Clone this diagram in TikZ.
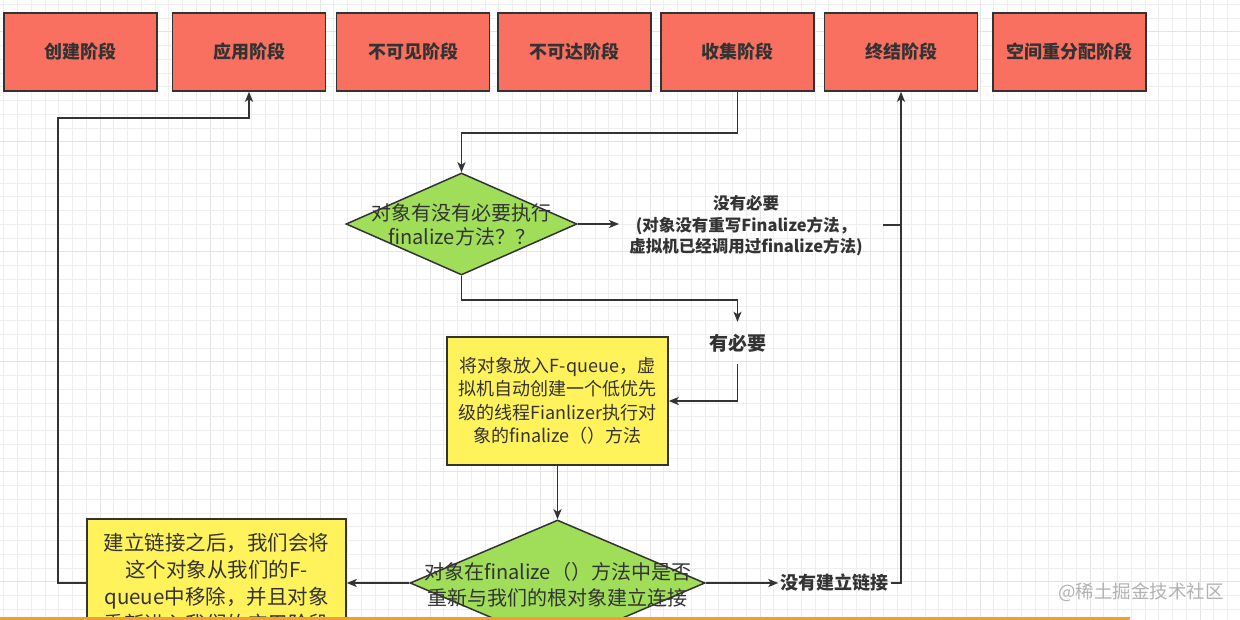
\documentclass[tikz,border=0pt]{standalone}
\usepackage{fontspec}
\setmainfont{Noto Sans CJK SC}
\usetikzlibrary{shapes.geometric,arrows.meta,calc}
\definecolor{redf}{RGB}{250,112,96}
\definecolor{greenf}{RGB}{160,222,90}
\definecolor{yellowf}{RGB}{255,242,90}
\definecolor{edge}{RGB}{51,51,51}
\definecolor{textc}{RGB}{51,51,51}
\definecolor{gridc}{RGB}{238,238,238}
\definecolor{gridm}{RGB}{228,228,228}
\definecolor{orangel}{RGB}{240,160,50}
\definecolor{wmark}{RGB}{178,178,178}
\begin{document}
\begin{tikzpicture}[x=1pt,y=-1pt,
  redbox/.style={draw=edge,line width=1.5pt,fill=redf,minimum width=153,minimum height=78,inner sep=0,text=textc,font=\fontsize{18}{22}\selectfont\bfseries},
  ybox/.style={draw=edge,line width=1.5pt,fill=yellowf,inner sep=0,text=textc,align=center},
  dia/.style={draw=edge,line width=1.5pt,fill=greenf,diamond,inner sep=0},
  lbl/.style={text=textc,align=center,inner sep=0},
  line/.style={draw=edge,line width=1.6pt},
  arr/.style={line,-{Stealth[length=10pt,width=8pt,inset=2.5pt]}},
  gl/.style={draw=gridc,line width=0.8pt},
  glm/.style={draw=gridm,line width=0.9pt}]
\useasboundingbox (0,0) rectangle (1240,620);
\clip (0,0) rectangle (1240,620);
\fill[white] (0,0) rectangle (1240,620);
% grid
\foreach \i in {0,...,90} {
  \pgfmathtruncatemacro{\m}{mod(\i,8)}
  \ifnum\m=7 \draw[glm] ({3.75+\i*13.75},0) -- ++(0,620); \else \draw[gl] ({3.75+\i*13.75},0) -- ++(0,620); \fi
}
\foreach \j in {0,...,45} {
  \pgfmathtruncatemacro{\m}{mod(\j,8)}
  \ifnum\m=2 \draw[glm] (0,{4.2+\j*13.75}) -- ++(1240,0); \else \draw[gl] (0,{4.2+\j*13.75}) -- ++(1240,0); \fi
}
% top stages
\node[redbox] (s1) at (80.5,52) {创建阶段};
\node[redbox] (s2) at (249,52) {应用阶段};
\node[redbox] (s3) at (413,52) {不可见阶段};
\node[redbox] (s4) at (574.5,52) {不可达阶段};
\node[redbox] (s5) at (737.5,52) {收集阶段};
\node[redbox] (s6) at (901,52) {终结阶段};
\node[redbox] (s7) at (1069.5,52) {空间重分配阶段};
% decision 1
\node[dia,minimum width=231,minimum height=102] (d1) at (461.5,224) {};
\node[lbl,font=\fontsize{20}{24}\selectfont] (d1t) at (461.5,225) {对象有没有必要执行\\finalize方法？？};
\node[lbl,inner xsep=10,font=\fontsize{16.5}{21.5}\selectfont\bfseries] (nn) at (746,226) {没有必要\\(对象没有重写Finalize方法，\\虚拟机已经调用过finalize方法)};
\coordinate (j1) at (901,225);
\node[lbl,minimum height=42,font=\fontsize{19}{22}\selectfont\bfseries] (ny) at (737.5,343) {有必要};
% yellow 1
\node[ybox,minimum width=221,minimum height=128,font=\fontsize{18}{23.5}\selectfont] (y1) at (557.5,401) {将对象放入F-queue，虚\\拟机自动创建一个低优先\\级的线程Fianlizer执行对\\象的finalize（）方法};
% decision 2
\node[dia,minimum width=295,minimum height=126] (d2) at (557.5,583) {};
\node[lbl,font=\fontsize{20}{26}\selectfont] (d2t) at (557.5,585) {对象在finalize（）方法中是否\\重新与我们的根对象建立连接};
\node[lbl,inner xsep=2,font=\fontsize{18}{22}\selectfont\bfseries] (nl) at (834.5,583) {没有建立链接};
% yellow 2
\node[ybox,minimum width=259,minimum height=128,font=\fontsize{20.5}{27}\selectfont] (y2) at (216.5,583) {建立链接之后，我们会将\\这个对象从我们的F-\\queue中移除，并且对象\\重新进入我们的应用阶段};
% connectors
\draw[arr] (s5.south) -- ++(0,41) -| (d1.north);
\draw[arr] (d1.east) -- (nn.west |- d1.east);
\draw[line,shorten <=10pt] (nn.east |- j1) -- (j1);
\draw[arr] (d1.south) -- ++(0,24) -| (ny.north);
\draw[arr] (ny.south) |- (y1.east);
\draw[arr] (y1.south) -- (d2.north);
\draw[arr] (d2.east) -- (nl.west);
\draw[arr] (nl.east) -| (s6.south);
\draw[arr] (d2.west) -- (y2.east);
\draw[arr] (y2.west) -- ++(-28,0) |- ($(s2.south)+(0,26)$) -- (s2.south);
% watermark and bottom bar
\node[lbl,text=wmark,font=\fontsize{18.5}{22}\selectfont] (wm) at (1141,592) {@稀土掘金技术社区};
\draw[orangel,line width=3pt] (0,618.5) -- (1130,618.5);
\end{tikzpicture}
\end{document}
